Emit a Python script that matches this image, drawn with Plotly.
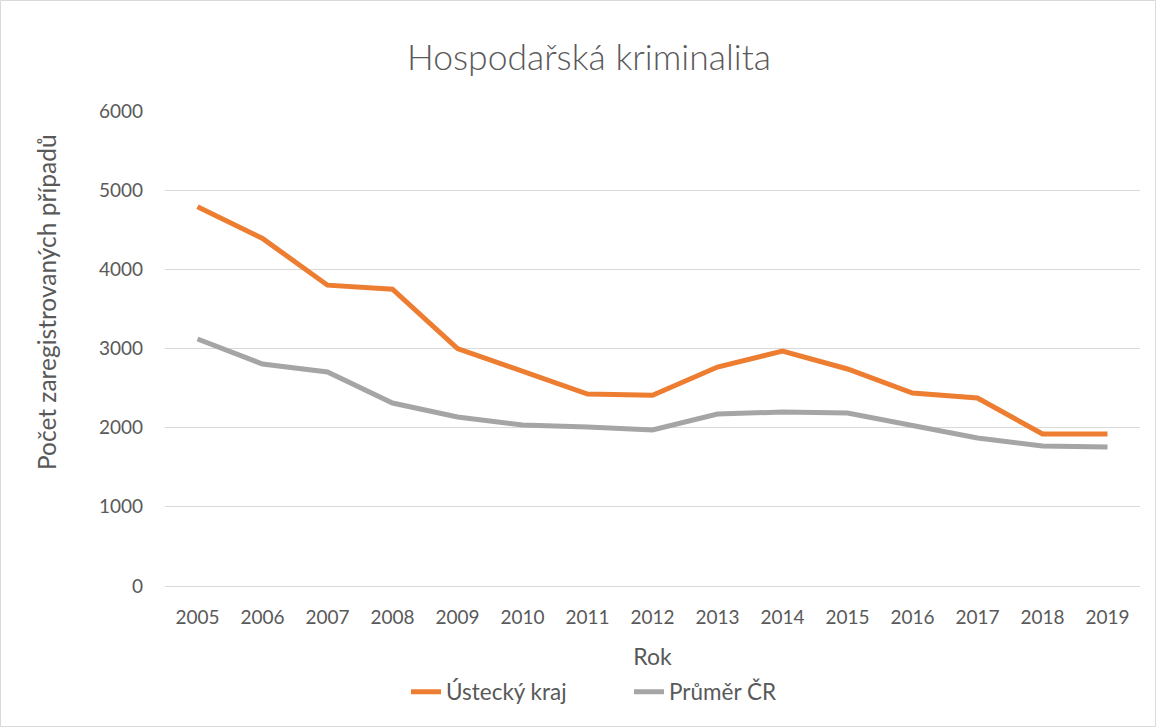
import plotly.graph_objects as go

years = [str(y) for y in range(2005, 2020)]
ustecky = [4790, 4390, 3800, 3750, 3000, 2710, 2425, 2410, 2766, 2968, 2741, 2438, 2375, 1920, 1920]
prumer = [3120, 2804, 2703, 2311, 2135, 2034, 2008, 1970, 2172, 2198, 2185, 2021, 1869, 1768, 1756]

font_color = "#595959"
W, H = 1157, 728
L, R, T, B = 165, 17, 111, 142
pw, ph = W - L - R, H - T - B

fig = go.Figure()
fig.add_trace(go.Scatter(x=years, y=ustecky, mode="lines", name="Ústecký kraj",
                         line=dict(color="#ED7D31", width=5)))
fig.add_trace(go.Scatter(x=years, y=prumer, mode="lines", name="Průměr ČR",
                         line=dict(color="#A5A5A5", width=5)))

fig.update_layout(
    width=W, height=H,
    paper_bgcolor="white", plot_bgcolor="white",
    font=dict(family="Lato, Open Sans, sans-serif", size=19, color=font_color),
    title=dict(text="Hospodařská kriminalita", x=589 / W, xanchor="center",
               y=1 - 58 / H, yanchor="middle",
               font=dict(size=35.5, color=font_color, weight=300)),
    margin=dict(l=L, r=R, t=T, b=B, autoexpand=False),
    showlegend=True,
    legend=dict(orientation="h", x=(406 - L) / pw, xanchor="left", y=-(692 - 586) / ph,
                yanchor="middle", font=dict(size=22.5), entrywidth=178),
    xaxis=dict(range=[-0.5, 14.5], showgrid=False, showline=True, linecolor="#D9D9D9",
               ticks="", ticklabelstandoff=14, title=dict(text="Rok", standoff=22)),
    yaxis=dict(range=[0, 6000], dtick=1000, gridcolor="#D9D9D9", zeroline=False,
               showline=False, ticks="", ticklabelstandoff=21),
    annotations=[dict(text="Počet zaregistrovaných případů", textangle=-90,
                      xref="paper", yref="paper", x=-(L - 46) / pw, y=(586 - 302) / ph,
                      xanchor="center", yanchor="middle", showarrow=False,
                      font=dict(size=24.5, color=font_color))],
    shapes=[dict(type="rect", xref="paper", yref="paper",
                 x0=-(L - 0.5) / pw, x1=1 + (R - 1.5) / pw,
                 y0=-(B - 1.5) / ph, y1=1 + (T - 0.5) / ph,
                 line=dict(color="#D9D9D9", width=1))],
)

fig.write_html("out.html", config={"displayModeBar": False},
               post_script="document.body.style.margin='0';")
